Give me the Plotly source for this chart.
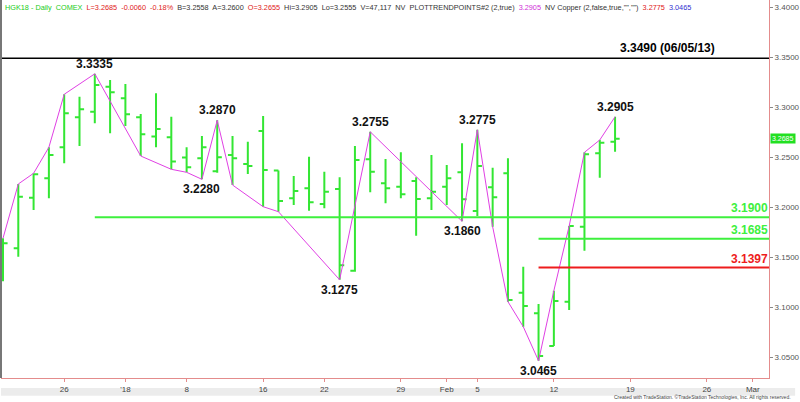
import plotly.graph_objects as go
import pandas as pd

# ---------------- data ----------------
holidays = ["2017-12-25", "2018-01-01", "2018-01-15"]
calendar = [d for d in pd.bdate_range("2017-12-19", "2018-03-02")
            if d.strftime("%Y-%m-%d") not in holidays]

opens = [3.1580, 3.1590, 3.2096, 3.2290, 3.2600, 3.2900, 3.2956, 3.3206, 3.3090, 3.2900,
         3.2707, 3.2700, 3.2497, 3.2490, 3.2360, 3.2523, 3.2433, 3.2763, 3.2367, 3.2090,
         3.2190, 3.2033, 3.2183, 3.1366, 3.2480, 3.2240, 3.2206, 3.2263, 3.2090, 3.2206,
         3.2350, 3.1963, 3.2200, 3.2340, 3.1146, 3.0940, 3.0613, 3.1056, 3.1806, 3.2540,
         3.2655]
highs = [3.1690, 3.2233, 3.2340, 3.2600, 3.3130, 3.3106, 3.3335, 3.3273, 3.3233, 3.2933,
         3.3140, 3.2906, 3.2600, 3.2713, 3.2870, 3.2713, 3.2656, 3.2913, 3.2367, 3.2313,
         3.2506, 3.2356, 3.2300, 3.2613, 3.2755, 3.2483, 3.2550, 3.2300, 3.2523, 3.2423,
         3.2640, 3.2775, 3.2396, 3.2490, 3.1406, 3.1033, 3.1166, 3.1813, 3.2550, 3.2673,
         3.2905]
lows = [3.1260, 3.1506, 3.1973, 3.2090, 3.2440, 3.2613, 3.2840, 3.2740, 3.2813, 3.2513,
        3.2600, 3.2380, 3.2350, 3.2280, 3.2346, 3.2223, 3.2333, 3.2006, 3.1956, 3.2023,
        3.1966, 3.1990, 3.1275, 3.1356, 3.2150, 3.2040, 3.2090, 3.1716, 3.1973, 3.2023,
        3.1860, 3.1913, 3.1806, 3.1056, 3.0806, 3.0465, 3.0613, 3.0973, 3.1566, 3.2296,
        3.2555]
closes = [3.1640, 3.2106, 3.2330, 3.2523, 3.2940, 3.2980, 3.3223, 3.3150, 3.2930, 3.2730,
          3.2783, 3.2457, 3.2400, 3.2600, 3.2500, 3.2490, 3.2413, 3.2373, 3.2063, 3.2163,
          3.2050, 3.2156, 3.1420, 3.2473, 3.2356, 3.2190, 3.2130, 3.2083, 3.2156, 3.2290,
          3.2080, 3.2413, 3.2100, 3.1073, 3.1013, 3.0513, 3.1063, 3.1813, 3.2530, 3.2646,
          3.2685]
bar_dates = calendar[:len(opens)]

# swing (trend point) line: bar index and which extreme it uses
swing_idx = [0, 1, 2, 3, 4, 6, 9, 11, 12, 13, 14, 15, 17, 18, 22, 24, 30, 31, 32, 33, 34, 35,
             36, 37, 38, 39, 40]
swing_side = ["H", "H", "H", "H", "H", "H", "L", "L", "L", "L", "H", "L", "L", "L", "L", "H",
              "L", "H", "L", "L", "L", "L", "H", "H", "H", "H", "H"]
labeled_swings = [6, 13, 14, 22, 24, 30, 31, 35, 40]

# horizontal levels
level_values = [3.3490, 3.1900, 3.1685, 3.1397]
level_start = [None, 6, 35, 35]
level_text = ["3.3490 (06/05/13)", "3.1900", "3.1685", "3.1397"]
level_colors = ["#000000", "#3ef03e", "#3ef03e", "#ee1c1c"]

tick_dates = ["2017-12-26", "2018-01-02", "2018-01-08", "2018-01-16", "2018-01-22",
              "2018-01-29", "2018-02-01", "2018-02-05", "2018-02-12", "2018-02-19",
              "2018-02-26", "2018-03-01"]
tick_labels = ["26", "'18", "8", "16", "22", "29", "Feb", "5", "12", "19", "26", "Mar"]
y_ticks = [3.05, 3.10, 3.15, 3.20, 3.25, 3.30, 3.35, 3.40]

# ---------------- figure ----------------
cal_str = [d.strftime("%Y-%m-%d") for d in calendar]
xi = list(range(len(bar_dates)))
tick_pos = [cal_str.index(d) for d in tick_dates]

XMIN, XMAX = -0.13, 50.06
YMIN, YMAX = 3.0293, 3.4073
GREEN = "#33e633"
AXIS = "#e48c8c"

fig = go.Figure()
fig.add_trace(go.Ohlc(
    x=xi, open=opens, high=highs, low=lows, close=closes,
    increasing=dict(line=dict(color=GREEN, width=2)),
    decreasing=dict(line=dict(color=GREEN, width=2)),
    tickwidth=0.3, showlegend=False, hoverinfo="skip"))

sw_y = [highs[i] if s == "H" else lows[i] for i, s in zip(swing_idx, swing_side)]
fig.add_trace(go.Scatter(x=swing_idx, y=sw_y, mode="lines",
                         line=dict(color="#e040e4", width=1), showlegend=False,
                         hoverinfo="skip"))

annotations = []
shapes = []
for i in labeled_swings:
    side = swing_side[swing_idx.index(i)]
    v = highs[i] if side == "H" else lows[i]
    annotations.append(dict(
        x=i, y=v, xref="x", yref="y", text=f"{v:.4f}", showarrow=False,
        yanchor="bottom" if side == "H" else "top",
        yshift=1 if side == "H" else -1,
        font=dict(family="Arial", size=12, color="#111111", weight="bold")))

for v, s, t, c in zip(level_values, level_start, level_text, level_colors):
    x0 = XMIN if s is None else s
    shapes.append(dict(type="line", xref="x", yref="y", x0=x0, x1=XMAX, y0=v, y1=v,
                       line=dict(color=c, width=1.5 if s is None else 2)))
    if s is None:
        annotations.append(dict(x=0.932, xref="paper", y=v, yref="y", text=t,
                                showarrow=False, xanchor="right", yanchor="bottom",
                                yshift=1,
                                font=dict(family="Arial", size=12, color=c, weight="bold")))
    else:
        annotations.append(dict(x=1.0, xref="paper", y=v, yref="y", text=t,
                                showarrow=False, xanchor="right", yanchor="bottom",
                                xshift=1, yshift=0,
                                font=dict(family="Arial", size=12, color=c, weight="bold")))

# last price tag
annotations.append(dict(x=1.0, xref="paper", y=closes[-1], yref="y",
                        text=f"{closes[-1]:.4f}", showarrow=False, xanchor="left",
                        xshift=1, bgcolor="#22e022", borderpad=1,
                        font=dict(family="Arial", size=7, color="#ffffff")))

# header
hdr = ("<span style='color:#22cc22'>HGK18 - Daily  COMEX</span>  "
       "<span style='color:#e02020'>L=3.2685  -0.0060  -0.18%</span>  "
       "B=3.2558  A=3.2600  <span style='color:#e02020'>O=3.2655</span>  "
       "Hi=3.2905  Lo=3.2555  V=47,117  NV  PLOTTRENDPOINTS#2 (2,true)  "
       "<span style='color:#d030d8'>3.2905</span>  NV Copper (2,false,true,\"\",\"\")  "
       "<span style='color:#e02020'>3.2775</span>  <span style='color:#3030d0'>3.0465</span>")
annotations.append(dict(x=0.002, xref="paper", y=1.0, yref="paper", text=hdr,
                        showarrow=False, xanchor="left", yanchor="top", yshift=-1,
                        font=dict(family="Arial", size=7.3, color="#333333")))
annotations.append(dict(x=1.0, xref="paper", y=0, yref="paper",
                        text="Created with TradeStation. \u00a9TradeStation Technologies, Inc. All rights reserved.",
                        showarrow=False, xanchor="right", yanchor="bottom", xshift=24,
                        yshift=-24, font=dict(family="Arial", size=5, color="#444444")))

# frame: left border, scrollbar band
shapes.append(dict(type="line", xref="paper", yref="paper", x0=0, x1=0, y0=0, y1=1,
                   line=dict(color="#777777", width=2)))
shapes.append(dict(type="rect", xref="paper", yref="paper", x0=0, x1=1.034,
                   y0=-0.0265, y1=-0.047, fillcolor="#ececec", line=dict(width=0),
                   layer="below"))

fig.update_layout(
    width=800, height=402,
    margin=dict(l=1, r=26, t=0, b=24),
    paper_bgcolor="white", plot_bgcolor="white",
    shapes=shapes, annotations=annotations,
    xaxis=dict(range=[XMIN, XMAX], tickmode="array", tickvals=tick_pos,
               ticktext=tick_labels, showgrid=False, zeroline=False,
               showline=True, linecolor=AXIS, linewidth=1, ticks="outside",
               ticklen=3, tickcolor=AXIS, rangeslider=dict(visible=False),
               tickfont=dict(family="Arial", size=8, color="#444444")),
    yaxis=dict(range=[YMIN, YMAX], side="right", tickmode="array", tickvals=y_ticks,
               ticktext=[f"{v:.4f}" for v in y_ticks], showgrid=False, zeroline=False,
               showline=True, linecolor=AXIS, linewidth=1, ticks="outside", ticklen=3,
               tickcolor="#888888",
               tickfont=dict(family="Arial", size=8, color="#555555")),
)

fig.write_html("out.html", config={"displayModeBar": False},
               post_script="document.body.style.margin='0';document.body.style.overflow='hidden';")
